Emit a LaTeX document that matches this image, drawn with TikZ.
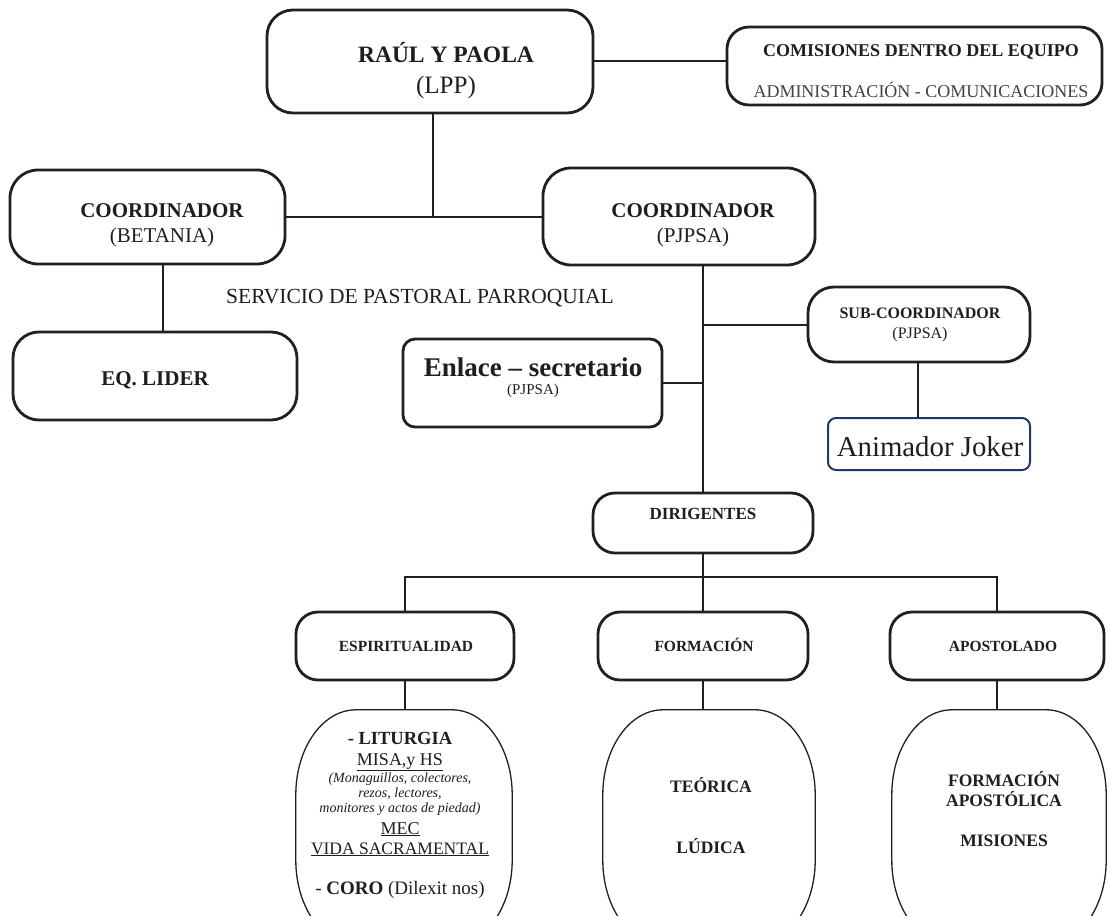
\documentclass[tikz,border=0pt]{standalone}
\usepackage{fontspec}
\setmainfont{Liberation Serif}
\definecolor{ln}{HTML}{231F20}
\definecolor{tx}{HTML}{1E1E1E}
\definecolor{navy}{HTML}{1F3864}
\newcommand\fz[2]{\fontsize{#1}{#2}\selectfont}
\tikzset{
  box/.style={draw=ln, line width=2.8pt, rounded corners=#1, inner sep=0pt},
  box/.default=24pt,
  conn/.style={draw=ln, line width=2pt},
  ovl/.style={draw=ln, line width=1.3pt},
  hold/.style={inner sep=0pt},
  txt/.style={text=tx, inner sep=0pt, anchor=base},
}
\newcommand\ovalout[1]{%
  \draw[ovl] ([shift={(0pt,-85pt)}]#1.north west)
    -- ([shift={(0pt,85pt)}]#1.south west)
    .. controls ([shift={(0pt,38pt)}]#1.south west) and ([shift={(27pt,0pt)}]#1.south west) .. ([shift={(60pt,0pt)}]#1.south west)
    -- ([shift={(-60pt,0pt)}]#1.south east)
    .. controls ([shift={(-27pt,0pt)}]#1.south east) and ([shift={(0pt,38pt)}]#1.south east) .. ([shift={(0pt,85pt)}]#1.south east)
    -- ([shift={(0pt,-85pt)}]#1.north east)
    .. controls ([shift={(0pt,-38pt)}]#1.north east) and ([shift={(-27pt,0pt)}]#1.north east) .. ([shift={(-60pt,0pt)}]#1.north east)
    -- ([shift={(60pt,0pt)}]#1.north west)
    .. controls ([shift={(27pt,0pt)}]#1.north west) and ([shift={(0pt,-38pt)}]#1.north west) .. ([shift={(0pt,-85pt)}]#1.north west)
    -- cycle;}
\begin{document}
\begin{tikzpicture}[x=1pt, y=-1pt]
\useasboundingbox (0,0) rectangle (1110,915);
\fill[white] (0,0) rectangle (1110,915);
\clip (0,0) rectangle (1110,915);

% ---------- boxes ----------
\node[box=26pt, minimum width=326pt, minimum height=103pt] (raul) at (430,61.5) {};
\node[box=22pt, minimum width=375pt, minimum height=78pt] (com) at (914.5,66) {};
\node[box=28pt, minimum width=275pt, minimum height=94pt] (bet) at (147.5,217) {};
\node[box=28pt, minimum width=272pt, minimum height=97pt] (pj) at (679,216.5) {};
\node[box=26pt, minimum width=284pt, minimum height=88pt] (eq) at (155,376) {};
\node[box=12pt, minimum width=259pt, minimum height=88pt] (enl) at (532.5,383) {};
\node[box=26pt, minimum width=222pt, minimum height=75pt] (sub) at (919,324.5) {};
\node[draw=navy, line width=2pt, rounded corners=8pt, minimum width=202pt, minimum height=52pt,
      inner sep=0pt] (anim) at (929,444) {};
\node[box=22pt, minimum width=220pt, minimum height=60pt] (dir) at (703,523) {};
\node[box=22pt, minimum width=218pt, minimum height=68pt] (esp) at (405,646) {};
\node[box=22pt, minimum width=210pt, minimum height=68pt] (form) at (703,646) {};
\node[box=22pt, minimum width=214pt, minimum height=68pt] (apo) at (997,646) {};

% bottom rounded shapes
\node[hold, minimum width=216pt, minimum height=235pt] (lit) at (404,827.5) {};
\node[hold, minimum width=212pt, minimum height=235pt] (teo) at (709,827.5) {};
\node[hold, minimum width=214pt, minimum height=235pt] (mis) at (999,827.5) {};
\ovalout{lit}
\ovalout{teo}
\ovalout{mis}

% ---------- texts ----------
\node[txt, font=\fz{23.5}{28}\bfseries] (raul1) at (446,63) {RAÚL Y PAOLA};
\node[txt, font=\fz{25}{28}] (raul2) at (446,94) {(LPP)};

\node[txt, font=\fz{18}{20}\bfseries] (com1) at (921,57) {COMISIONES DENTRO DEL EQUIPO};
\node[txt, font=\fz{18}{20}, text=ln!85] (com2) at (921,98) {ADMINISTRACIÓN - COMUNICACIONES};

\node[txt, font=\fz{21}{24}\bfseries] (bet1) at (162,217) {COORDINADOR};
\node[txt, font=\fz{21}{24}] (bet2) at (162,242) {(BETANIA)};
\node[txt, font=\fz{21}{24}\bfseries] (pj1) at (693,217) {COORDINADOR};
\node[txt, font=\fz{21}{24}] (pj2) at (693,242) {(PJPSA)};

\node[txt, font=\fz{21.5}{24}] (serv) at (420,303) {SERVICIO DE PASTORAL PARROQUIAL};

\node[txt, font=\fz{21}{24}\bfseries] (eq1) at (155,385) {EQ. LIDER};

\node[txt, font=\fz{27}{30}\bfseries] (enl1) at (533,376) {Enlace – secretario};
\node[txt, font=\fz{15}{17}] (enl2) at (533,394) {(PJPSA)};

\node[txt, font=\fz{16}{19}\bfseries] (sub1) at (920,318.5) {SUB-COORDINADOR};
\node[txt, font=\fz{16}{19}] (sub2) at (920,338.5) {(PJPSA)};

\node[txt, font=\fz{28.8}{32}] (anim1) at (930,456) {Animador Joker};

\node[txt, font=\fz{17}{20}\bfseries] (dir1) at (703,519) {DIRIGENTES};

\node[txt, font=\fz{15.5}{18}\bfseries] (esp1) at (406,651) {ESPIRITUALIDAD};
\node[txt, font=\fz{15.5}{18}\bfseries] (form1) at (704,651) {FORMACIÓN};
\node[txt, font=\fz{15.5}{18}\bfseries] (apo1) at (1003,651) {APOSTOLADO};

\node[txt, font=\fz{18.5}{20}\bfseries] (l1) at (400,744) {- LITURGIA};
\node[txt, font=\fz{18}{20}] (l2) at (400,765) {\underline{MISA,y HS}};
\node[txt, font=\fz{14}{16}\itshape] (l3) at (400,782.5) {(Monaguillos, colectores,};
\node[txt, font=\fz{14}{16}\itshape] (l4) at (400,797.5) {rezos, lectores,};
\node[txt, font=\fz{14}{16}\itshape] (l5) at (400,812.5) {monitores y actos de piedad)};
\node[txt, font=\fz{18}{20}] (l6) at (400,834) {\underline{MEC}};
\node[txt, font=\fz{17.5}{20}] (l7) at (400,854) {\underline{VIDA SACRAMENTAL}};
\node[txt, font=\fz{19}{20}] (l8) at (400,894) {- \textbf{CORO} (Dilexit nos)};

\node[txt, font=\fz{17.5}{20}\bfseries] (t1) at (711,792) {TEÓRICA};
\node[txt, font=\fz{17.5}{20}\bfseries] (t2) at (711,853) {LÚDICA};

\node[txt, font=\fz{17.5}{20}\bfseries] (m1) at (1004,786) {FORMACIÓN};
\node[txt, font=\fz{17.5}{20}\bfseries] (m2) at (1004,806) {APOSTÓLICA};
\node[txt, font=\fz{17.5}{20}\bfseries] (m3) at (1004,846) {MISIONES};

% ---------- connectors ----------
\coordinate (vr) at (433,0);
\coordinate (vb) at (163,0);
\coordinate (col) at (703,0);
\coordinate (vs) at (918,0);
\coordinate (bus) at (0,577);
\draw[conn] (raul.east) -- (raul.east -| com.west);
\draw[conn] (raul.south -| vr) -- (bet.east -| vr);
\draw[conn] (bet.east) -- (bet.east -| pj.west);
\draw[conn] (bet.south -| vb) -- (eq.north -| vb);
\draw[conn] (pj.south -| col) -- (dir.north);
\draw[conn] (sub.west) -- (sub.west -| col);
\draw[conn] (enl.east) -- (enl.east -| col);
\draw[conn] (sub.south -| vs) -- (anim.north -| vs);
\draw[conn] (dir.south) -- (form.north);
\draw[conn] (esp.north) -- (esp.north |- bus) -- (apo.north |- bus) -- (apo.north);
\draw[conn] (esp.south) -- (esp.south |- lit.north);
\draw[conn] (form.south) -- (form.south |- teo.north);
\draw[conn] (apo.south) -- (apo.south |- mis.north);
\end{tikzpicture}
\end{document}
